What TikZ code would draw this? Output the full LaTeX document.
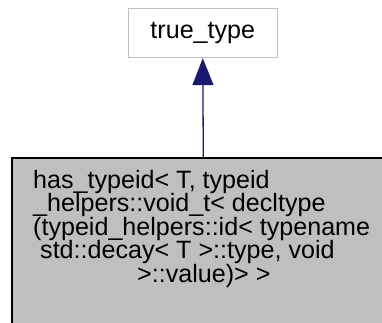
\documentclass[tikz,border=0pt]{standalone}
\usepackage{fontspec}
\setmainfont{Liberation Sans}
\usetikzlibrary{arrows.meta}
\definecolor{edgeblue}{HTML}{191970}
\definecolor{boxgray}{HTML}{BFBFBF}
\definecolor{lightborder}{HTML}{C0C0C0}
\tikzset{
  plainbox/.style={draw=lightborder, line width=1.3pt, fill=white, minimum width=149pt, minimum height=49pt, inner sep=0pt, font=\fontsize{25.1}{23.5}\selectfont},
  childbox/.style={draw=black, line width=1.6pt, fill=boxgray, minimum width=383pt, minimum height=200pt, inner sep=0pt, anchor=north west},
  lbl/.style={anchor=base west, inner sep=0pt, font=\fontsize{25.1}{23.5}\selectfont},
  edge/.style={draw=edgeblue, line width=1.3pt, -{Triangle[length=27pt,width=21pt,fill=edgeblue]}}
}
\begin{document}
\begin{tikzpicture}[x=1pt,y=-1pt]
\useasboundingbox (0,0) rectangle (382,322);
\clip (0,0) rectangle (382,322);
\fill[white] (0,0) rectangle (382,322);
\node[plainbox] (top) at (202.8,33) {true\_type};
\node[childbox] (child) at (11,157) {};
\node[lbl] (l1) at (33,188) {has\_typeid< T, typeid};
\node[lbl] (l2) at (33,211.5) {\_helpers::void\_t< decltype};
\node[lbl] (l3) at (33,235) {(typeid\_helpers::id< typename};
\node[lbl] (l4) at (40,258.5) {std::decay< T >::type, void};
\node[lbl] (l5) at (137,282) {>::value)> >};
\draw[edge] (child.north) -- (top.south);
\end{tikzpicture}
\end{document}
